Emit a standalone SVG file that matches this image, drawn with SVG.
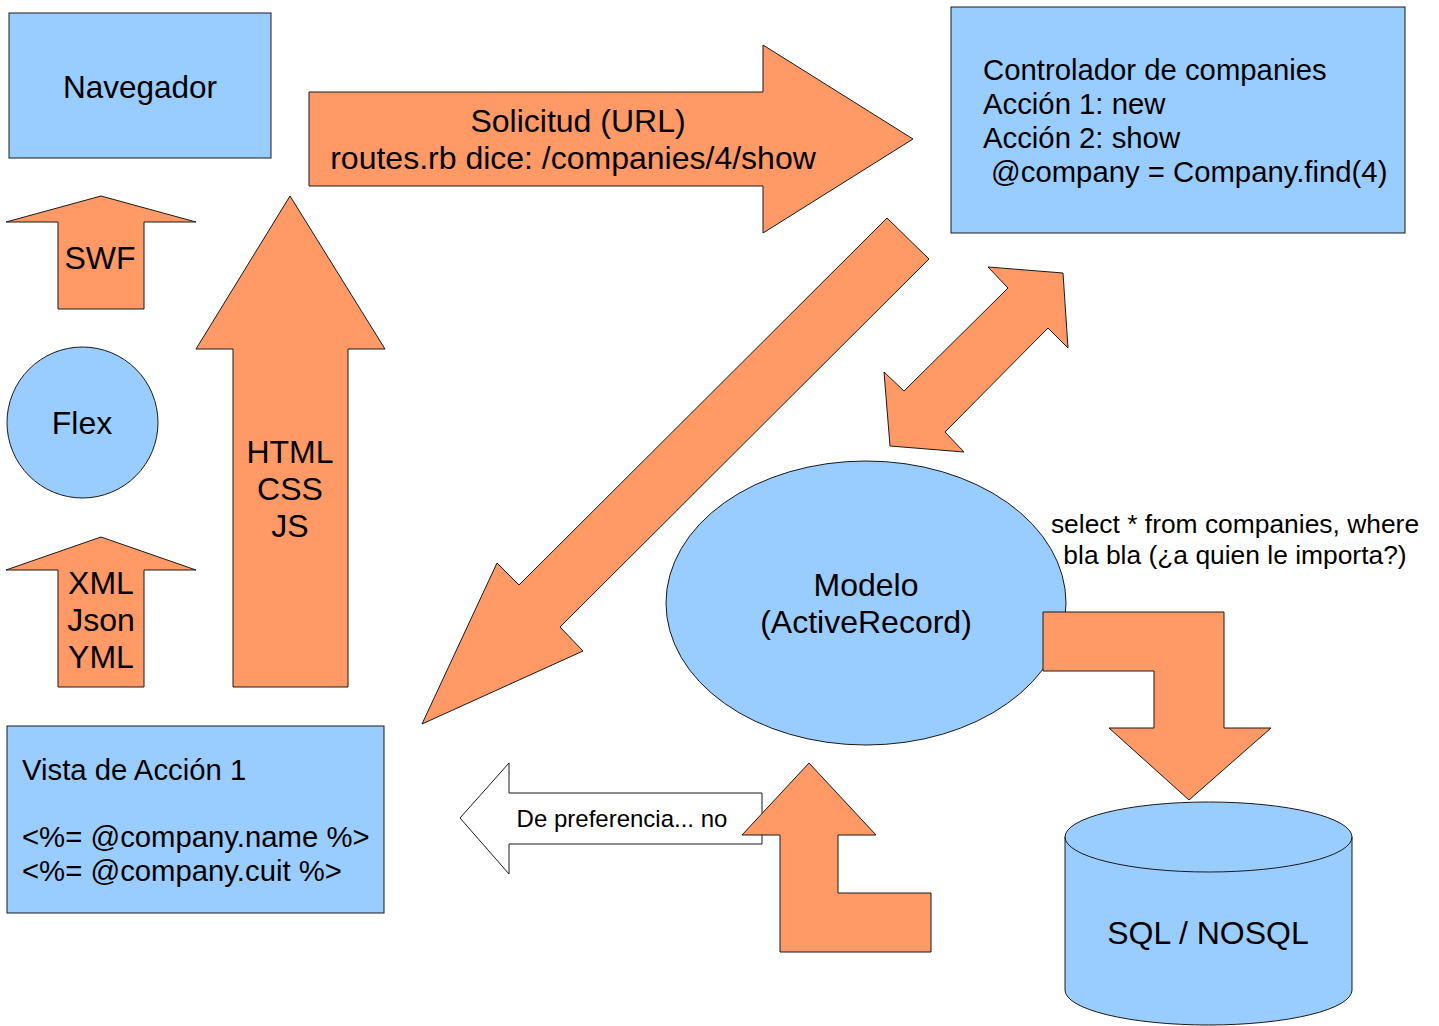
<svg xmlns="http://www.w3.org/2000/svg" width="1439" height="1026" viewBox="0 0 1439 1026">
<style>
  .node { fill: #99ccff; stroke: #1a1a1a; stroke-width: 1; }
  .arrow { fill: #ff9966; stroke: #1a1a1a; stroke-width: 1; stroke-linejoin: miter; }
  .warrow { fill: #ffffff; stroke: #1a1a1a; stroke-width: 1; }
  text { font-family: "Liberation Sans", Arial, sans-serif; fill: #000000; }
  .c { text-anchor: middle; }
  .f32 { font-size: 32px; }
  .f31 { font-size: 31.5px; }
  .f29 { font-size: 29.3px; }
  .f26 { font-size: 26.4px; }
  .f24 { font-size: 24px; }
</style>
<rect width="1439" height="1026" fill="#ffffff"/>

<g id="navegador">
  <rect class="node" x="9" y="13" width="262" height="145"/>
  <text class="c f31" x="140" y="98">Navegador</text>
</g>

<g id="controlador">
  <rect class="node" x="951" y="7" width="454" height="226"/>
  <text class="f29" x="983" y="80">Controlador de companies</text>
  <text class="f29" x="983" y="114">Acción 1: new</text>
  <text class="f29" x="983" y="148">Acción 2: show</text>
  <text class="f29" x="991" y="182">@company = Company.find(4)</text>
</g>

<g id="flex">
  <circle class="node" cx="82.5" cy="422.5" r="75.5"/>
  <text class="c f32" x="82" y="434">Flex</text>
</g>

<g id="vista">
  <rect class="node" x="7" y="726" width="377" height="187"/>
  <text class="f29" x="22" y="780">Vista de Acción 1</text>
  <text class="f29" x="22" y="847">&lt;%= @company.name %&gt;</text>
  <text class="f29" x="22" y="881">&lt;%= @company.cuit %&gt;</text>
</g>

<g id="modelo">
  <ellipse class="node" cx="866" cy="603" rx="200" ry="142"/>
  <text class="c f32" x="866" y="596">Modelo</text>
  <text class="c f32" x="866" y="633">(ActiveRecord)</text>
</g>

<g id="sql-note">
  <text class="c f26" x="1235" y="533">select * from companies, where</text>
  <text class="c f26" x="1235" y="564">bla bla (¿a quien le importa?)</text>
</g>

<g id="database">
  <path class="node" d="M1065,837 L1065,990 A143.5,35 0 0 0 1352,990 L1352,837 A143.5,35 0 0 0 1065,837 Z"/>
  <path class="node" d="M1065,837 A143.5,35 0 0 0 1352,837" style="fill:none"/>
  <text class="c f32" x="1208" y="944">SQL / NOSQL</text>
</g>

<g id="connectors">
  <g id="arrow-solicitud">
    <polygon class="arrow" points="309,92 763,92 763,45 913,139 763,233 763,186 309,186"/>
    <text class="c f32" x="578" y="132">Solicitud (URL)</text>
    <text class="c f32" x="573" y="169">routes.rb dice: /companies/4/show</text>
  </g>
  <g id="arrow-swf">
    <polygon class="arrow" points="101,196 196,222 144,222 144,309 58,309 58,222 6,222"/>
    <text class="c f32" x="100" y="269">SWF</text>
  </g>
  <g id="arrow-html">
    <polygon class="arrow" points="290,196 385,349 348,349 348,687 233,687 233,349 196,349"/>
    <text class="c f32" x="290" y="463">HTML</text>
    <text class="c f32" x="290" y="500">CSS</text>
    <text class="c f32" x="290" y="537">JS</text>
  </g>
  <g id="arrow-xml">
    <polygon class="arrow" points="101,537 196,570 144,570 144,687 58,687 58,570 6,570"/>
    <text class="c f32" x="101" y="594">XML</text>
    <text class="c f32" x="101" y="631">Json</text>
    <text class="c f32" x="101" y="668">YML</text>
  </g>
  <polygon id="arrow-diagonal" class="arrow" points="887,218 929,259 560,627 583,651 422,724 497,563 519,585"/>
  <polygon id="arrow-double" class="arrow" points="988,267 1063,273 1068,348 1048,328 945,432 964,452 890,446 884,372 904,391 1008,288"/>
  <polygon id="arrow-db" class="arrow" points="1043,612 1224,612 1224,728 1271,728 1189,800 1109,728 1154,728 1154,671 1043,671"/>
  <g id="arrow-preferencia">
    <polygon class="warrow" points="460,818 509,763 509,793 762,793 762,844 509,844 509,874"/>
    <text class="c f24" x="622" y="827">De preferencia... no</text>
  </g>
  <polygon id="arrow-up-bent" class="arrow" points="809,763 876,835 838,835 838,893 931,893 931,952 780,952 780,835 742,835"/>
</g>
</svg>
